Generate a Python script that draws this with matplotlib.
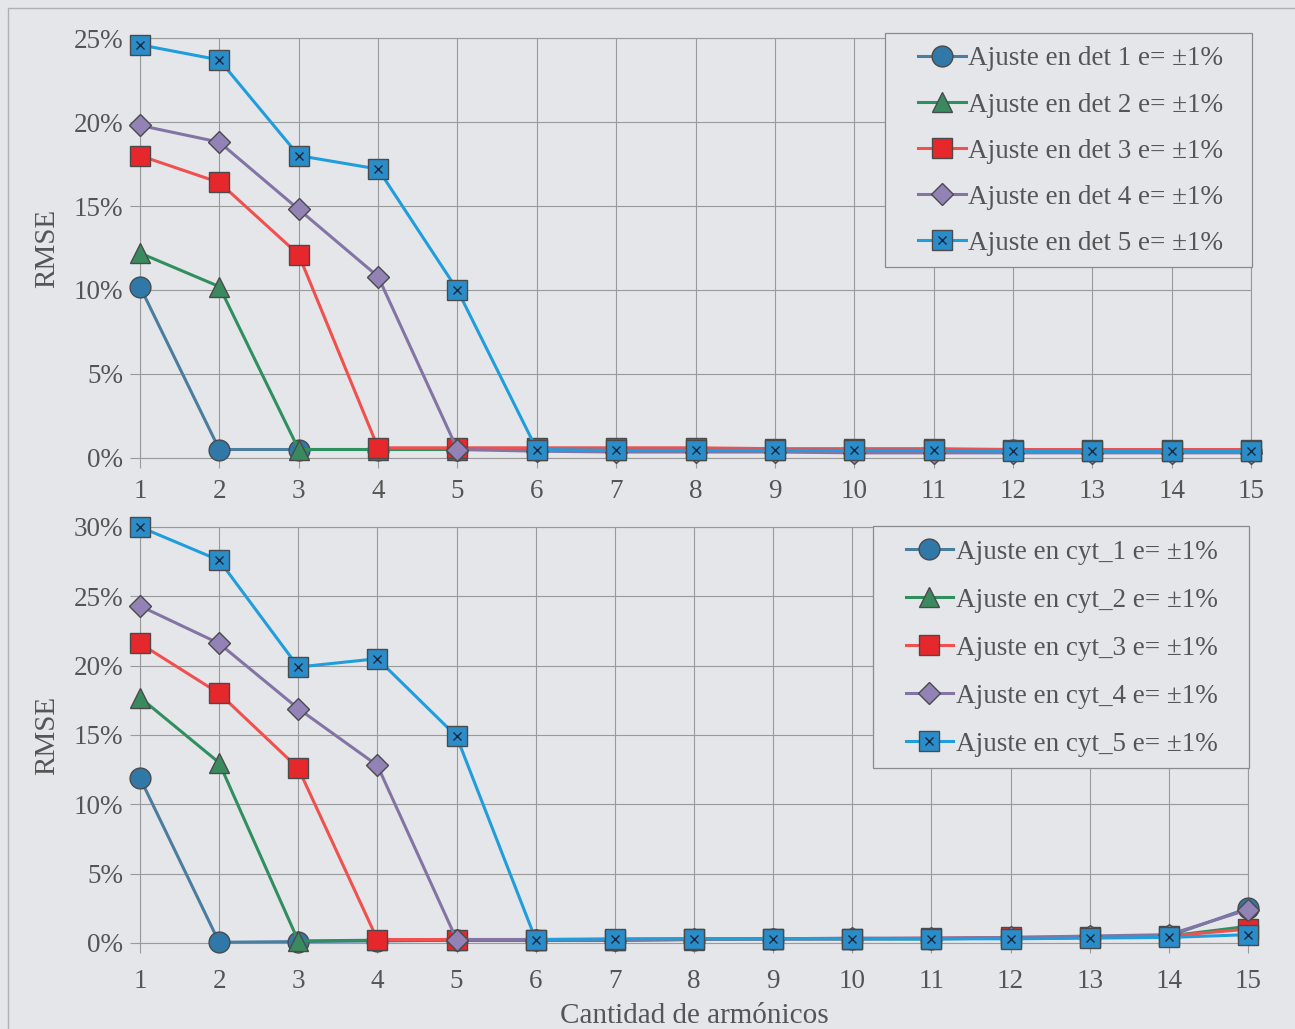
import matplotlib
matplotlib.use("Agg")
import matplotlib.pyplot as plt
from matplotlib.patches import Rectangle
from matplotlib.ticker import FuncFormatter

# ---- data (RMSE in %) ----
armonicos = list(range(1, 16))

det1 = [10.2, 0.5, 0.5, 0.5, 0.5, 0.5, 0.5, 0.5, 0.5, 0.45, 0.45, 0.45, 0.4, 0.4, 0.4]
det2 = [12.2, 10.2, 0.5, 0.5, 0.5, 0.5, 0.5, 0.5, 0.5, 0.45, 0.45, 0.45, 0.4, 0.4, 0.4]
det3 = [18.0, 16.4, 12.1, 0.6, 0.6, 0.6, 0.6, 0.6, 0.55, 0.55, 0.55, 0.5, 0.5, 0.5, 0.5]
det4 = [19.8, 18.8, 14.8, 10.8, 0.5, 0.4, 0.35, 0.35, 0.35, 0.3, 0.3, 0.3, 0.3, 0.3, 0.3]
det5 = [24.6, 23.7, 18.0, 17.2, 10.0, 0.5, 0.45, 0.45, 0.45, 0.45, 0.45, 0.4, 0.4, 0.4, 0.4]

cyt1 = [11.9, 0.05, 0.1, 0.15, 0.2, 0.2, 0.2, 0.25, 0.3, 0.3, 0.3, 0.35, 0.4, 0.5, 2.5]
cyt2 = [17.7, 13.0, 0.15, 0.2, 0.2, 0.2, 0.2, 0.25, 0.3, 0.3, 0.3, 0.35, 0.4, 0.5, 1.2]
cyt3 = [21.6, 18.0, 12.6, 0.25, 0.25, 0.25, 0.25, 0.3, 0.3, 0.3, 0.35, 0.4, 0.45, 0.5, 1.0]
cyt4 = [24.3, 21.6, 16.9, 12.8, 0.25, 0.25, 0.25, 0.3, 0.3, 0.35, 0.35, 0.4, 0.5, 0.6, 2.4]
cyt5 = [30.0, 27.6, 19.9, 20.5, 14.9, 0.25, 0.3, 0.3, 0.3, 0.3, 0.3, 0.3, 0.35, 0.4, 0.6]

det_labels = [f"Ajuste en det {i} e= ±1%" for i in range(1, 6)]
cyt_labels = [f"Ajuste en cyt_{i} e= ±1%" for i in range(1, 6)]

# line colour, marker fill, marker shape, marker size
STYLES = [
    ("#4a7d9e", "#2f78a8", "o", 15),
    ("#2f8f5e", "#3a8a60", "^", 15),
    ("#f0504e", "#e6282c", "s", 14.5),
    ("#8474a4", "#9282b6", "D", 11),
    ("#1f9ddc", "#2a8cc8", "s", 14.5),
]

BG = "#e5e6ea"
TEXT = "#555555"
GRID = "#9a9a9a"

plt.rcParams.update({
    "font.family": ["Liberation Serif", "DejaVu Serif"],
    "text.color": TEXT,
    "axes.labelcolor": TEXT,
    "xtick.color": GRID,
    "ytick.color": GRID,
    "xtick.labelcolor": TEXT,
    "ytick.labelcolor": TEXT,
})


def draw_panel(ax, series, labels, ymax, leg_anchor, leg_box, spacing):
    ax.set_facecolor(BG)
    handles = []
    for vals, lab, (lc, mc, mk, ms) in zip(series, labels, STYLES):
        ln, = ax.plot(armonicos, vals, color=lc, lw=2.2, marker=mk, ms=ms,
                      markerfacecolor=mc, markeredgecolor="#4a4a4a",
                      markeredgewidth=1.0, clip_on=False, zorder=3)
        if mk == "s" and lc == STYLES[4][0]:
            # excel-like square with a cross inside
            cross, = ax.plot(armonicos, vals, ls="none", marker="x", ms=6,
                             mec="#1a2a40", mew=1.0, clip_on=False, zorder=4)
            handles.append((ln, cross))
        else:
            handles.append(ln)

    ax.set_xlim(1, 15)
    ax.set_ylim(0, ymax)
    ax.set_xticks(armonicos)
    ax.set_yticks(range(0, ymax + 1, 5))
    ax.yaxis.set_major_formatter(FuncFormatter(lambda v, p: f"{v:.0f}%"))
    ax.grid(True, color=GRID, lw=0.8)
    ax.set_axisbelow(True)
    for s in ax.spines.values():
        s.set_color(GRID)
        s.set_linewidth(0.8)
    ax.tick_params(axis="both", direction="out", length=7, width=0.8,
                   labelsize=19.5)
    ax.tick_params(axis="y", pad=5)
    ax.set_ylabel("RMSE", fontsize=21, labelpad=10)

    # legend box drawn by hand (excel pads the sides more than the top)
    box = Rectangle(leg_box[:2], leg_box[2], leg_box[3],
                    transform=fig.transFigure, facecolor=BG,
                    edgecolor="#8a8a8a", lw=0.9, zorder=4.5, clip_on=False)
    ax.add_patch(box)
    leg = ax.legend(handles, labels, loc="upper right",
                    bbox_to_anchor=leg_anchor, bbox_transform=fig.transFigure,
                    fontsize=19.5, frameon=False,
                    borderaxespad=0, handlelength=1.75, handletextpad=0.1,
                    labelspacing=spacing, borderpad=0.5)
    leg.set_zorder(5)
    for t in leg.get_texts():
        t.set_color(TEXT)


fig = plt.figure(figsize=(12.95, 10.29), dpi=100)
fig.patch.set_facecolor(BG)

ax_top = fig.add_axes([0.1081, 0.555, 0.858, 0.408])
ax_bot = fig.add_axes([0.1081, 0.0836, 0.8556, 0.4043])

draw_panel(ax_top, [det1, det2, det3, det4, det5], det_labels, 25,
           (0.9552, 0.968), (0.6834, 0.7405, 0.2834, 0.2274), 0.78)
draw_panel(ax_bot, [cyt1, cyt2, cyt3, cyt4, cyt5], cyt_labels, 30,
           (0.9506, 0.4888), (0.6741, 0.2536, 0.2903, 0.2352), 0.85)
ax_top.tick_params(axis="x", pad=8)
ax_bot.tick_params(axis="x", pad=12)
ax_bot.set_xlabel("Cantidad de armónicos", fontsize=21, labelpad=6)

# outer chart border (only the left and top edges fall inside the image)
fig.patches.append(Rectangle((0.006, -0.05), 1.1, 1.042,
                             transform=fig.transFigure, fill=False,
                             edgecolor="#b0b0b0", lw=1.0))

fig.savefig("out.png", dpi=100, facecolor=BG)
